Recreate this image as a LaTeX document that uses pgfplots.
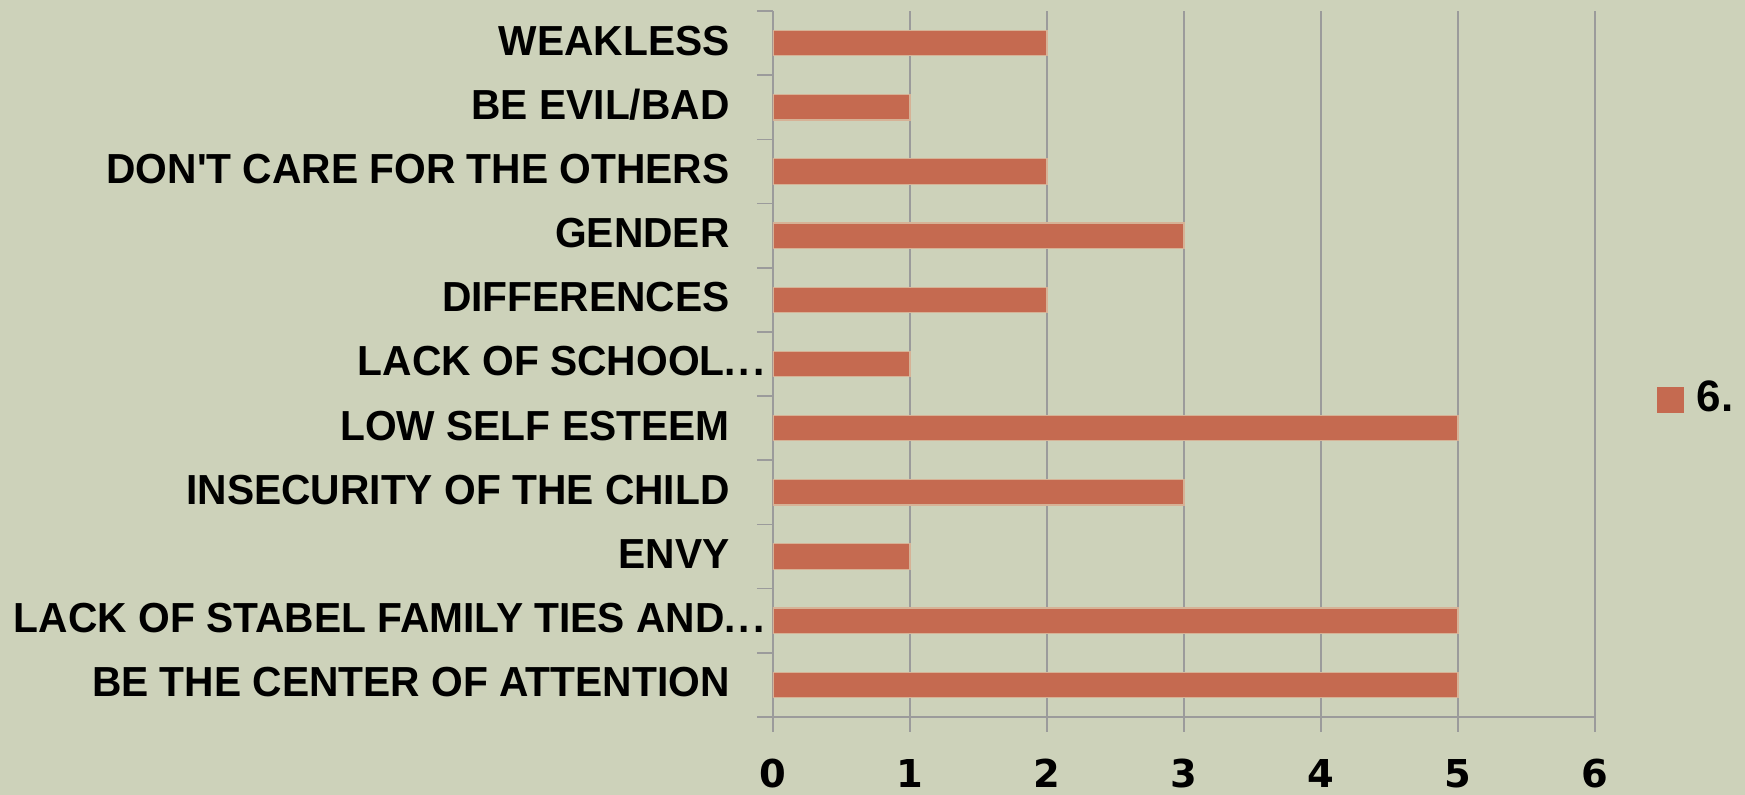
\documentclass[border=0pt]{standalone}
\usepackage{fontspec}
\usepackage{pgfplots}
\pgfplotsset{compat=1.18}
\setmainfont{Liberation Sans}
\newfontfamily\labfont{Liberation Sans Bold}[FakeStretch=0.97]
\newfontfamily\tickfont{DejaVu Sans Bold}
\definecolor{bg}{RGB}{205,210,186}
\definecolor{barc}{RGB}{197,106,80}
\definecolor{barb}{RGB}{214,178,150}
\definecolor{gridc}{RGB}{155,155,155}
\newcommand{\gap}{\hspace*{17.5pt}}
\newcommand{\el}{.\kern1.5pt.\kern1.5pt.}
\begin{document}
\begin{tikzpicture}
\fill[bg] (-386.5pt,-39pt) rectangle (486pt,358.5pt);
\useasboundingbox (-386.5pt,-39pt) rectangle (486pt,358.5pt);
\begin{axis}[
  at={(0,0)}, anchor=south west,
  scale only axis, width=411pt, height=353pt,
  xbar, bar width=12.7pt,
  xmin=0, xmax=6, ymin=-0.5, ymax=10.5,
  axis x line*=bottom, axis y line*=left,
  axis line style={gridc, line width=0.8pt},
  xtick={0,...,6}, xticklabels={0,1,2,3,4,5,6},
  xmajorgrids, major grid style={gridc, line width=0.8pt},
  ytick={0,...,10},
  yticklabels={{BE THE CENTER OF ATTENTION\gap},{LACK OF STABEL FAMILY TIES AND\el},{ENVY\gap},{INSECURITY OF THE CHILD\gap},{LOW SELF ESTEEM\gap},{LACK OF SCHOOL\el},{DIFFERENCES\gap},{GENDER\gap},{DON'T CARE FOR THE OTHERS\gap},{BE EVIL/BAD\gap},{WEAKLESS\gap}},
  minor ytick={-0.5,0.5,...,10.5},
  major y tick style={draw=none},
  tick align=outside, major tick length=7.5pt, minor tick length=8pt,
  tick style={gridc, line width=0.8pt},
  xticklabel style={font=\tickfont\fontsize{19.2}{22}\selectfont, anchor=base, inner sep=0pt, yshift=-28pt},
  yticklabel style={font=\labfont\fontsize{21}{25}\selectfont, anchor=base east, inner sep=0pt, yshift=-6pt, xshift=3.5pt},
  legend style={at={(1.0754,0.452)}, anchor=west, draw=none, fill=none, inner sep=0pt,
    font=\bfseries\fontsize{22}{26}\selectfont, nodes={inner sep=0pt},
    /tikz/every even column/.append style={column sep=0pt}},
  legend image code/.code={\fill[barc] (0pt,-7.25pt) rectangle (12.5pt,5.25pt);},
]
\addplot[fill=barc, draw=barb, line width=0.6pt] coordinates {
  (5,0) (5,1) (1,2) (3,3) (5,4) (1,5) (2,6) (3,7) (2,8) (1,9) (2,10)
};
\addlegendentry{\hspace*{6.5pt}6.}
\end{axis}
\end{tikzpicture}
\end{document}
